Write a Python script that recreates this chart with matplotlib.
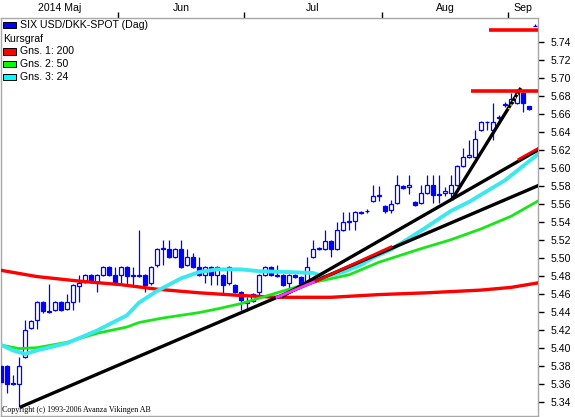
import matplotlib
matplotlib.use('Agg')
import matplotlib.pyplot as plt
from matplotlib.patches import Rectangle
import numpy as np

# USD/DKK daily candles, day 0 = 5 May 2014 (trading days only)
opens = [5.380, 5.380, 5.361, 5.360, 5.390, 5.422, 5.431, 5.451, 5.441, 5.442,
         5.451, 5.443, 5.451, 5.469, 5.473, 5.481, 5.473, 5.481, 5.490, 5.481,
         5.481, 5.490, 5.481, 5.481, 5.481, 5.472, 5.492, 5.510, 5.510, 5.501,
         5.510, 5.492, 5.501, 5.490, 5.481, 5.490, 5.481, 5.481, 5.472, 5.470,
         5.462, 5.450, 5.452, 5.462, 5.481, 5.490, 5.481, 5.481, 5.472, 5.481,
         5.479, 5.472, 5.501, 5.510, 5.510, 5.519, 5.510, 5.531, 5.540, 5.541,
         5.551, 5.552, 5.563, 5.569, 5.557, 5.553, 5.561, 5.580, 5.578, 5.562,
         5.561, 5.572, 5.581, 5.571, 5.572, 5.572, 5.581, 5.602, 5.612, 5.612,
         5.642, 5.651, 5.642, 5.656, 5.670, 5.672, 5.672, 5.683, 5.668, 5.7575]
highs = [5.382, 5.381, 5.370, 5.390, 5.431, 5.431, 5.452, 5.452, 5.471, 5.452,
         5.452, 5.460, 5.471, 5.481, 5.482, 5.482, 5.482, 5.491, 5.491, 5.490,
         5.491, 5.491, 5.490, 5.531, 5.482, 5.491, 5.511, 5.520, 5.520, 5.511,
         5.520, 5.510, 5.505, 5.501, 5.491, 5.491, 5.491, 5.482, 5.491, 5.471,
         5.463, 5.456, 5.461, 5.482, 5.491, 5.491, 5.492, 5.482, 5.482, 5.482,
         5.480, 5.501, 5.520, 5.512, 5.531, 5.520, 5.540, 5.551, 5.551, 5.552,
         5.552, 5.554, 5.581, 5.580, 5.558, 5.564, 5.592, 5.581, 5.592, 5.563,
         5.581, 5.592, 5.592, 5.592, 5.579, 5.592, 5.603, 5.622, 5.631, 5.642,
         5.652, 5.652, 5.672, 5.658, 5.673, 5.683, 5.687, 5.684, 5.669, 5.760]
lows = [5.358, 5.350, 5.358, 5.334, 5.388, 5.421, 5.421, 5.439, 5.438, 5.441,
        5.441, 5.442, 5.442, 5.451, 5.472, 5.472, 5.462, 5.480, 5.480, 5.471,
        5.472, 5.470, 5.468, 5.479, 5.462, 5.470, 5.490, 5.492, 5.500, 5.500,
        5.489, 5.491, 5.489, 5.480, 5.472, 5.470, 5.470, 5.460, 5.470, 5.461,
        5.442, 5.441, 5.451, 5.458, 5.480, 5.480, 5.479, 5.469, 5.463, 5.477,
        5.469, 5.471, 5.500, 5.508, 5.509, 5.501, 5.509, 5.530, 5.531, 5.531,
        5.549, 5.550, 5.562, 5.563, 5.550, 5.550, 5.560, 5.576, 5.571, 5.557,
        5.560, 5.571, 5.561, 5.561, 5.568, 5.565, 5.580, 5.601, 5.611, 5.611,
        5.641, 5.642, 5.631, 5.653, 5.667, 5.670, 5.671, 5.662, 5.664, 5.7574]
closes = [5.362, 5.360, 5.360, 5.380, 5.420, 5.430, 5.451, 5.441, 5.440, 5.451,
          5.442, 5.451, 5.470, 5.472, 5.481, 5.473, 5.481, 5.490, 5.481, 5.472,
          5.490, 5.480, 5.480, 5.480, 5.470, 5.490, 5.510, 5.511, 5.501, 5.510,
          5.490, 5.501, 5.490, 5.481, 5.490, 5.481, 5.490, 5.470, 5.490, 5.462,
          5.453, 5.452, 5.460, 5.481, 5.490, 5.481, 5.480, 5.470, 5.481, 5.478,
          5.470, 5.490, 5.510, 5.511, 5.519, 5.510, 5.531, 5.540, 5.541, 5.551,
          5.550, 5.552, 5.569, 5.570, 5.552, 5.560, 5.581, 5.577, 5.581, 5.558,
          5.572, 5.581, 5.570, 5.570, 5.574, 5.581, 5.602, 5.612, 5.614, 5.632,
          5.651, 5.6512, 5.651, 5.6555, 5.671, 5.676, 5.683, 5.672, 5.665, 5.7576]

# glidande medelvarden (at some days)
ma200_day = [0, 6, 13, 20, 26, 33, 40, 46, 55, 63, 71, 80, 85, 89.5]
ma200_val = [5.486, 5.479, 5.474, 5.470, 5.465, 5.461, 5.458, 5.456, 5.456,
             5.459, 5.461, 5.464, 5.467, 5.472]
ma50_day = [0, 3, 6, 11, 16, 21, 23, 27, 30, 33, 36, 40, 43, 46, 51, 58, 63,
            70, 75, 80, 85, 89.5]
ma50_val = [5.403, 5.399, 5.400, 5.406, 5.416, 5.423, 5.428, 5.433, 5.436,
            5.439, 5.443, 5.449, 5.455, 5.461, 5.471, 5.481, 5.495, 5.510,
            5.520, 5.532, 5.546, 5.563]
ma24_day = [0, 2, 4, 6, 11, 16, 21, 23, 26, 30, 33, 36, 40, 43, 48, 52, 54,
            57, 60, 62, 65, 70, 75, 78, 84, 89.5]
ma24_val = [5.403, 5.397, 5.393, 5.397, 5.405, 5.419, 5.436, 5.450, 5.463,
            5.477, 5.484, 5.487, 5.487, 5.485, 5.484, 5.483, 5.479, 5.484,
            5.492, 5.500, 5.509, 5.530, 5.552, 5.562, 5.586, 5.615]

# trendlinjer
trend_a_day = [3.4, 89.5]
trend_a_val = [5.3345, 5.580]
trend_b_day = [47, 89.5]
trend_b_val = [5.4575, 5.6197]
trend_c_day = [75.3, 86.5]
trend_c_val = [5.566, 5.687]
pink_day = [46, 52.5]
pink_val = [5.456, 5.474]
redseg_day = [52.5, 65]
redseg_val = [5.474, 5.512]
redtip_day = [86.3, 89.5]
redtip_val = [5.6095, 5.6215]
# horisontella motstand
resist_start = [81.4, 78.4]
resist_val = [5.7535, 5.6857]

months = ['2014 Maj', 'Jun', 'Jul', 'Aug', 'Sep']
month_bounds = [0, 19.5, 40.5, 63.5, 84.5, 89.5]

W, H = 575, 417
fig = plt.figure(figsize=(W / 100, H / 100), dpi=100)
ax = fig.add_axes([1 / W, 1 / H, 537 / W, 397.7 / H])
ax.set_xlim(0, 89.5)
ax.set_ylim(5.3241, 5.766)

blue = '#0000ff'
days = np.arange(len(opens))
o = np.array(opens)
c = np.array(closes)
ax.vlines(days, lows, highs, color=blue, lw=0.9, zorder=2)
up = c >= o
ax.bar(days[up], (c - o)[up], bottom=o[up], width=0.72, facecolor='white',
       edgecolor=blue, lw=0.9, zorder=3)
ax.bar(days[~up], (c - o)[~up], bottom=o[~up], width=0.72, facecolor=blue,
       edgecolor=blue, lw=0.9, zorder=3)

ax.plot(ma200_day, ma200_val, color='#ff0000', lw=2.4, zorder=5)
ax.plot(ma50_day, ma50_val, color='#19e619', lw=2.0, zorder=5)
ax.plot(ma24_day, ma24_val, color='#3ce8f0', lw=2.8, zorder=5)

for d, v in [(trend_a_day, trend_a_val), (trend_b_day, trend_b_val),
             (trend_c_day, trend_c_val)]:
    ax.plot(d, v, color='black', lw=2.4, zorder=6)
ax.plot(pink_day, pink_val, color='#ff33ff', lw=2.0, zorder=7)
ax.plot(redseg_day, redseg_val, color='#ff0000', lw=2.0, zorder=7)
ax.plot(redtip_day, redtip_val, color='#ff0000', lw=1.8, zorder=7)
ax.plot([84.6, 86.3], [5.665, 5.684], color='#ffff40', lw=1, ls=(0, (1, 2)), zorder=8)
for s, v in zip(resist_start, resist_val):
    ax.plot([s, 89.5], [v, v], color='#ff0000', lw=2.6, zorder=6,
            solid_capstyle='butt', clip_on=False)

# axlar
for sp in ax.spines.values():
    sp.set_color('#a8a8a8')
    sp.set_linewidth(1)
ax.yaxis.tick_right()
ax.set_yticks(np.arange(5.34, 5.741, 0.02))
ax.set_yticklabels(['%.2f' % v for v in np.arange(5.34, 5.741, 0.02)])
ax.tick_params(axis='y', direction='out', length=4, width=1, pad=5,
               labelsize=7.6, colors='black')

ax.xaxis.tick_top()
ax.set_xticks(month_bounds[1:-1])
ax.set_xticklabels([])
mids = [(a + b) / 2 for a, b in zip(month_bounds[:-1], month_bounds[1:])]
ax.set_xticks(mids, minor=True)
ax.set_xticklabels(months, minor=True)
ax.tick_params(axis='x', which='major', direction='out', length=4, width=1)
ax.tick_params(axis='x', which='minor', length=0, pad=3.5, labelsize=7.6)

plt.rcParams['font.family'] = ['Liberation Sans', 'DejaVu Sans']
for lab in ax.get_xticklabels(minor=True) + ax.get_yticklabels():
    lab.set_family(['Liberation Sans', 'DejaVu Sans'])

# legend (ritad for hand)
def fx(x):
    return x / W


def fy(y):
    return 1 - y / H


legend_items = [('SIX USD/DKK-SPOT (Dag)', blue, 25),
                ('Gns. 1: 200', '#ff0000', 51.5),
                ('Gns. 2: 50', '#00ff00', 64),
                ('Gns. 3: 24', '#00ffff', 77)]
for txt, col, yc in legend_items:
    fig.add_artist(Rectangle((fx(3), fy(yc + 3)), 13 / W, 6 / H, facecolor=col,
                             edgecolor='black', lw=0.7, transform=fig.transFigure))
    fig.text(fx(19.5), fy(yc), txt, fontsize=7.6, va='center', ha='left',
             family=['Liberation Sans', 'DejaVu Sans'])
fig.text(fx(3), fy(38.5), 'Kursgraf', fontsize=7.6, va='center', ha='left',
         family=['Liberation Sans', 'DejaVu Sans'])

fig.text(fx(2), fy(410), 'Copyright (c) 1993-2006 Avanza Vikingen AB',
         fontsize=5.8, va='center', ha='left', family='Liberation Serif')

fig.savefig('out.png', dpi=100, facecolor='white')
